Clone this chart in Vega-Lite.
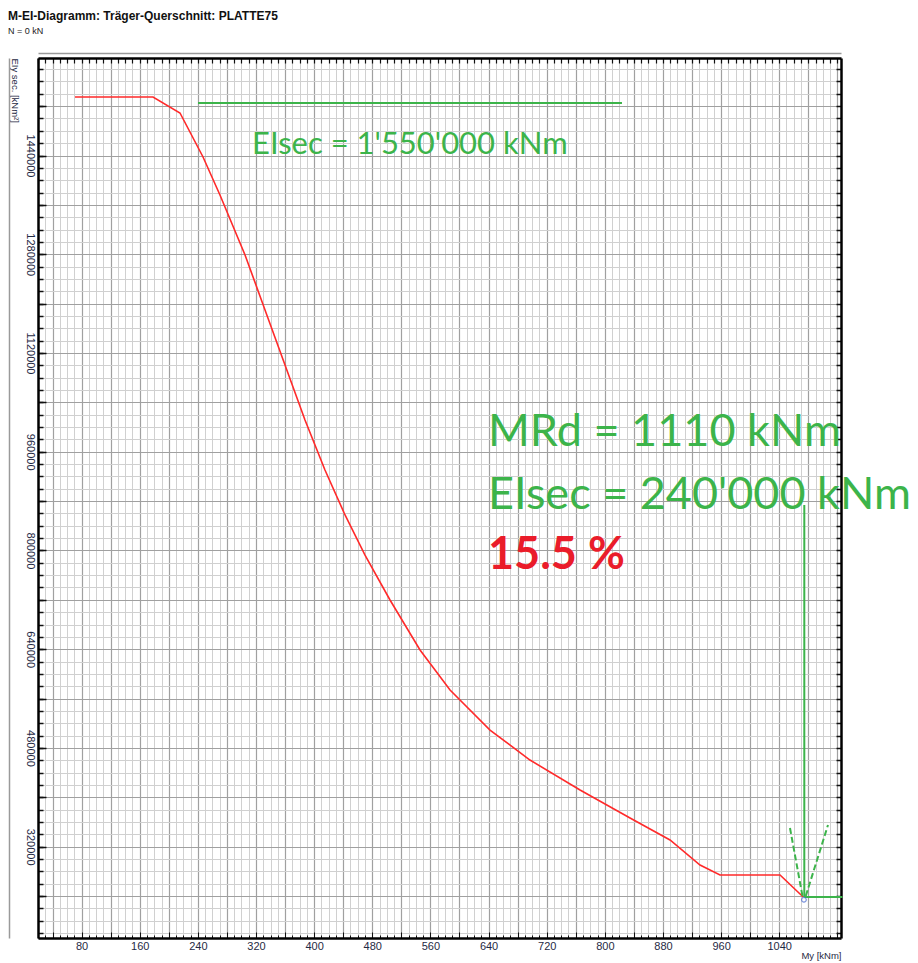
{
  "$schema": "https://vega.github.io/schema/vega-lite/v6.json",
  "width": 803,
  "height": 880,
  "autosize": {"type": "none"},
  "padding": {"left": 38, "top": 58, "right": 77, "bottom": 25},
  "background": "white",
  "config": {"view": {"stroke": null}, "axis": {"labelFont": "Liberation Sans", "titleFont": "Liberation Sans"}},
  "title": {
    "text": "M-EI-Diagramm: Träger-Querschnitt: PLATTE75",
    "subtitle": "N = 0 kN",
    "anchor": "start",
    "frame": "group",
    "dx": -30,
    "offset": 16,
    "font": "Liberation Sans",
    "fontSize": 12,
    "fontWeight": "bold",
    "color": "#111",
    "subtitleFont": "Liberation Sans",
    "subtitleFontSize": 9,
    "subtitleColor": "#222",
    "subtitlePadding": 4
  },
  "datasets": {
    "curve": [
      {"M": 70.9, "EI": 1534800},
      {"M": 178.3, "EI": 1534800},
      {"M": 215.4, "EI": 1508900},
      {"M": 247.1, "EI": 1437600},
      {"M": 270.4, "EI": 1376000},
      {"M": 304.9, "EI": 1278800},
      {"M": 332.4, "EI": 1189700},
      {"M": 359.9, "EI": 1100500},
      {"M": 387.4, "EI": 1011400},
      {"M": 414.9, "EI": 930400},
      {"M": 442.5, "EI": 857500},
      {"M": 470.0, "EI": 792600},
      {"M": 504.4, "EI": 719700},
      {"M": 545.7, "EI": 638700},
      {"M": 587.0, "EI": 573900},
      {"M": 642.0, "EI": 509000},
      {"M": 697.0, "EI": 460400},
      {"M": 765.9, "EI": 411800},
      {"M": 834.7, "EI": 366400},
      {"M": 889.7, "EI": 330800},
      {"M": 931.0, "EI": 290300},
      {"M": 958.5, "EI": 274100},
      {"M": 1041.1, "EI": 274100},
      {"M": 1073.0, "EI": 238500}
    ],
    "segs": [
      {"seg": "EI1550", "M": 240.2, "EI": 1525100},
      {"seg": "EI1550", "M": 823.6, "EI": 1525100},
      {"seg": "vert", "M": 1074.5, "EI": 873700},
      {"seg": "vert", "M": 1074.5, "EI": 238500},
      {"seg": "horiz", "M": 1074.5, "EI": 238500},
      {"seg": "horiz", "M": 1127, "EI": 238500}
    ],
    "vsegs": [
      {"seg": "left", "M": 1054.8, "EI": 350300},
      {"seg": "left", "M": 1072.0, "EI": 240000},
      {"seg": "right", "M": 1107.1, "EI": 355100},
      {"seg": "right", "M": 1076.5, "EI": 240000}
    ],
    "bigtext": [
      {"label": "MRd = 1110 kNm", "M": 639.2, "EI": 992000},
      {"label": "EIsec = 240'000 kNm", "M": 639.2, "EI": 889900}
    ],
    "smalltext": [
      {"label": "EIsec = 1'550'000 kNm", "M": 314.5, "EI": 1457000}
    ],
    "redtext": [
      {"label": "15.5 %", "M": 639.2, "EI": 792600}
    ],
    "endpoint": [
      {"M": 1074.0, "EI": 234000}
    ]
  },
  "resolve": {"axis": {"x": "independent", "y": "independent"}},
  "layer": [
    {
      "data": {"name": "curve"},
      "mark": {"type": "line", "color": "#ff2a2a", "strokeWidth": 1.6},
      "encoding": {
        "x": {"field": "M", "type": "quantitative", "scale": {"domain": [20, 1125], "nice": false, "zero": false},
          "axis": {"orient": "bottom", "values": [20,30,40,50,60,70,80,90,100,110,120,130,140,150,160,170,180,190,200,210,220,230,240,250,260,270,280,290,300,310,320,330,340,350,360,370,380,390,400,410,420,430,440,450,460,470,480,490,500,510,520,530,540,550,560,570,580,590,600,610,620,630,640,650,660,670,680,690,700,710,720,730,740,750,760,770,780,790,800,810,820,830,840,850,860,870,880,890,900,910,920,930,940,950,960,970,980,990,1000,1010,1020,1030,1040,1050,1060,1070,1080,1090,1100,1110,1120],
            "grid": true, "gridColor": "#d0d0d0", "gridWidth": 1, "labels": false, "domain": false, "ticks": true, "tickSize": -3, "tickColor": "#111", "tickWidth": 1, "title": null}},
        "y": {"field": "EI", "type": "quantitative", "scale": {"domain": [172000, 1598000], "nice": false, "zero": false},
          "axis": {"orient": "left", "values": [180000,200000,220000,240000,260000,280000,300000,320000,340000,360000,380000,400000,420000,440000,460000,480000,500000,520000,540000,560000,580000,600000,620000,640000,660000,680000,700000,720000,740000,760000,780000,800000,820000,840000,860000,880000,900000,920000,940000,960000,980000,1000000,1020000,1040000,1060000,1080000,1100000,1120000,1140000,1160000,1180000,1200000,1220000,1240000,1260000,1280000,1300000,1320000,1340000,1360000,1380000,1400000,1420000,1440000,1460000,1480000,1500000,1520000,1540000,1560000,1580000],
            "grid": true, "gridColor": "#d0d0d0", "gridWidth": 1, "labels": false, "domain": false, "ticks": true, "tickSize": -5, "tickColor": "#111", "tickWidth": 1.5, "title": null}}
      }
    },
    {
      "data": {"name": "segs"},
      "mark": {"type": "line", "color": "#3cb44a", "strokeWidth": 2},
      "encoding": {
        "x": {"field": "M", "type": "quantitative", "scale": {"domain": [20, 1125], "nice": false, "zero": false},
          "axis": {"orient": "bottom", "values": [40,80,120,160,200,240,280,320,360,400,440,480,520,560,600,640,680,720,760,800,840,880,920,960,1000,1040,1080,1120],
            "grid": true, "gridColor": "#a0a0a0", "gridWidth": 1.2, "labels": false, "domain": false, "ticks": true, "tickSize": -6, "tickColor": "#111", "tickWidth": 1, "title": null}},
        "y": {"field": "EI", "type": "quantitative", "scale": {"domain": [172000, 1598000], "nice": false, "zero": false},
          "axis": {"orient": "left", "values": [240000,320000,400000,480000,560000,640000,720000,800000,880000,960000,1040000,1120000,1200000,1280000,1360000,1440000,1520000],
            "grid": true, "gridColor": "#a0a0a0", "gridWidth": 1.2, "labels": false, "domain": false, "ticks": true, "tickSize": -8, "tickColor": "#111", "tickWidth": 1.5, "title": null}},
        "detail": {"field": "seg", "type": "nominal"}
      }
    },
    {
      "data": {"name": "vsegs"},
      "mark": {"type": "line", "color": "#3cb44a", "strokeWidth": 2, "strokeDash": [6, 3]},
      "encoding": {
        "x": {"field": "M", "type": "quantitative", "scale": {"domain": [20, 1125], "nice": false, "zero": false},
          "axis": {"orient": "bottom", "values": [80,160,240,320,400,480,560,640,720,800,880,960,1040], "format": "d",
            "grid": false, "ticks": false, "domain": true, "domainColor": "#000", "domainWidth": 2.5,
            "labelFontSize": 11, "labelColor": "#1f2a44", "labelPadding": 2,
            "title": "My [kNm]", "titleFontSize": 9.5, "titleFontWeight": "normal", "titleColor": "#1f2a44", "titleX": 803, "titleY": 17, "titleAlign": "right", "titleBaseline": "middle", "titleAnchor": null}},
        "y": {"field": "EI", "type": "quantitative", "scale": {"domain": [172000, 1598000], "nice": false, "zero": false},
          "axis": {"orient": "left", "values": [320000,480000,640000,800000,960000,1120000,1280000,1440000], "format": "d",
            "grid": false, "ticks": false, "domain": true, "domainColor": "#000", "domainWidth": 2.5,
            "labelFontSize": 11, "labelColor": "#1f2a44", "labelPadding": 3, "labelAngle": 90, "labelAlign": "center", "labelBaseline": "top",
            "title": "EIy sec. [kNm²]", "titleFontSize": 9.5, "titleFontWeight": "normal", "titleColor": "#1f2a44", "titleAngle": 90, "titleX": -24, "titleY": 0, "titleAlign": "left", "titleBaseline": "middle", "titleAnchor": null}},
        "detail": {"field": "seg", "type": "nominal"}
      }
    },
    {
      "data": {"name": "bigtext"},
      "mark": {"type": "text", "color": "#3cb44a", "font": "Lato", "fontSize": 45, "align": "left", "baseline": "middle"},
      "encoding": {
        "x": {"field": "M", "type": "quantitative", "scale": {"domain": [20, 1125], "nice": false, "zero": false},
          "axis": {"orient": "top", "values": [20,30,40,50,60,70,80,90,100,110,120,130,140,150,160,170,180,190,200,210,220,230,240,250,260,270,280,290,300,310,320,330,340,350,360,370,380,390,400,410,420,430,440,450,460,470,480,490,500,510,520,530,540,550,560,570,580,590,600,610,620,630,640,650,660,670,680,690,700,710,720,730,740,750,760,770,780,790,800,810,820,830,840,850,860,870,880,890,900,910,920,930,940,950,960,970,980,990,1000,1010,1020,1030,1040,1050,1060,1070,1080,1090,1100,1110,1120],
            "grid": false, "labels": false, "domain": true, "domainColor": "#000", "domainWidth": 2.5, "ticks": true, "tickSize": -5, "tickColor": "#111", "tickWidth": 1.2, "title": null}},
        "y": {"field": "EI", "type": "quantitative", "scale": {"domain": [172000, 1598000], "nice": false, "zero": false},
          "axis": {"orient": "right", "values": [180000,200000,220000,240000,260000,280000,300000,320000,340000,360000,380000,400000,420000,440000,460000,480000,500000,520000,540000,560000,580000,600000,620000,640000,660000,680000,700000,720000,740000,760000,780000,800000,820000,840000,860000,880000,900000,920000,940000,960000,980000,1000000,1020000,1040000,1060000,1080000,1100000,1120000,1140000,1160000,1180000,1200000,1220000,1240000,1260000,1280000,1300000,1320000,1340000,1360000,1380000,1400000,1420000,1440000,1460000,1480000,1500000,1520000,1540000,1560000,1580000],
            "grid": false, "labels": false, "domain": true, "domainColor": "#000", "domainWidth": 2.5, "ticks": true, "tickSize": -5, "tickColor": "#111", "tickWidth": 1.5, "title": null}},
        "text": {"field": "label", "type": "nominal"}
      }
    },
    {
      "data": {"name": "smalltext"},
      "mark": {"type": "text", "color": "#3cb44a", "font": "Lato", "fontSize": 31, "align": "left", "baseline": "middle"},
      "encoding": {
        "x": {"field": "M", "type": "quantitative", "scale": {"domain": [20, 1125], "nice": false, "zero": false},
          "axis": {"orient": "top", "offset": 5, "grid": false, "labels": false, "ticks": false, "domain": true, "domainColor": "#9a9a9a", "domainWidth": 1.5, "title": null}},
        "y": {"field": "EI", "type": "quantitative", "scale": {"domain": [172000, 1598000], "nice": false, "zero": false},
          "axis": {"orient": "left", "offset": 29, "grid": false, "labels": false, "ticks": false, "domain": true, "domainColor": "#9a9a9a", "domainWidth": 1.5, "title": null}},
        "text": {"field": "label", "type": "nominal"}
      }
    },
    {
      "data": {"name": "redtext"},
      "mark": {"type": "text", "color": "#ea1c2a", "font": "Lato", "fontSize": 45, "fontWeight": "bold", "align": "left", "baseline": "middle"},
      "encoding": {
        "x": {"field": "M", "type": "quantitative", "scale": {"domain": [20, 1125], "nice": false, "zero": false}, "axis": null},
        "y": {"field": "EI", "type": "quantitative", "scale": {"domain": [172000, 1598000], "nice": false, "zero": false}, "axis": null},
        "text": {"field": "label", "type": "nominal"}
      }
    },
    {
      "data": {"name": "endpoint"},
      "mark": {"type": "point", "shape": "circle", "filled": false, "stroke": "#4a6ad0", "strokeWidth": 1.2, "size": 22},
      "encoding": {
        "x": {"field": "M", "type": "quantitative", "scale": {"domain": [20, 1125], "nice": false, "zero": false}, "axis": null},
        "y": {"field": "EI", "type": "quantitative", "scale": {"domain": [172000, 1598000], "nice": false, "zero": false}, "axis": null}
      }
    }
  ]
}
